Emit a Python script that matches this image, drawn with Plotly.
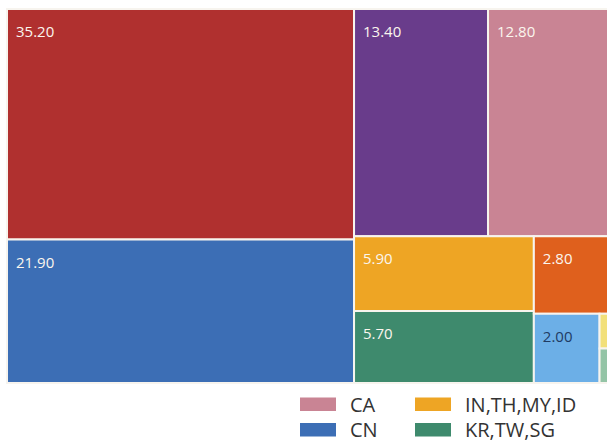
import plotly.graph_objects as go

# Share by market (percent)
categories = ["US", "CN", "EU", "CA", "IN,TH,MY,ID", "KR,TW,SG", "JP", "MX", "BR", "Other"]
shares = [35.2, 21.9, 13.4, 12.8, 5.9, 5.7, 2.8, 2.0, 0.25, 0.25]
tile_colors = ["#B0302F", "#3C6EB5", "#693C8B", "#C98494", "#EEA524",
               "#3E8A6D", "#DF601D", "#6CAFE7", "#F2E07A", "#94C4A6"]
label_colors = ["#FBF6EE", "#FBF6EE", "#FBF6EE", "#FBF6EE", "#FBF6EE",
                "#FBF6EE", "#FBF6EE", "#1F3B63", "#333333", "#333333"]
legend_names = ["CA", "CN", "IN,TH,MY,ID", "KR,TW,SG"]

FIG_W, FIG_H = 620, 443
M = dict(l=7, r=4, t=9, b=60)
plot_w = FIG_W - M["l"] - M["r"]
plot_h = FIG_H - M["t"] - M["b"]


def paper_x(px):
    return (px - M["l"]) / plot_w


def paper_y(py):
    return (FIG_H - M["b"] - py) / plot_h


fig = go.Figure()
fig.add_trace(go.Treemap(
    labels=categories,
    parents=[""] * len(categories),
    values=shares,
    sort=True,
    marker=dict(colors=tile_colors, line=dict(color="#F7F4EE", width=2),
                pad=dict(t=0, l=0, r=0, b=0)),
    tiling=dict(packing="squarify", squarifyratio=1.618, pad=0),
    pathbar=dict(visible=False),
    texttemplate="<span style='font-size:23px'> </span>%{value:.2f}",
    textposition="top left",
    textfont=dict(family="Open Sans", size=15, color=label_colors),
    hovertemplate="%{label}: %{value:.2f}<extra></extra>",
    domain=dict(x=[0, 1], y=[0, 1]),
))

# Legend drawn as swatches + labels below the tiles (two rows, column-major)
color_of = dict(zip(categories, tile_colors))
col_x = [300, 415]
row_y = [404, 429.5]
shapes, annotations = [], []
for i, name in enumerate(legend_names):
    cx, cy = col_x[i // 2], row_y[i % 2]
    shapes.append(dict(type="rect", xref="paper", yref="paper",
                       x0=paper_x(cx), x1=paper_x(cx + 36),
                       y0=paper_y(cy + 7), y1=paper_y(cy - 6.5),
                       fillcolor=color_of[name], line=dict(width=0)))
    annotations.append(dict(text=name, xref="paper", yref="paper",
                            x=paper_x(cx + 49), y=paper_y(cy),
                            xanchor="left", yanchor="middle", showarrow=False,
                            borderpad=0,
                            font=dict(family="Open Sans", size=20, color="#333333")))

fig.update_layout(
    width=FIG_W, height=FIG_H,
    margin=M,
    paper_bgcolor="white",
    plot_bgcolor="white",
    uniformtext=dict(minsize=15, mode="hide"),
    shapes=shapes,
    annotations=annotations,
    showlegend=False,
)

fig.write_html(
    "out.html",
    post_script=("document.documentElement.style.overflow='hidden';"
                 "document.body.style.overflow='hidden';"
                 "document.body.style.margin='0';"),
)
